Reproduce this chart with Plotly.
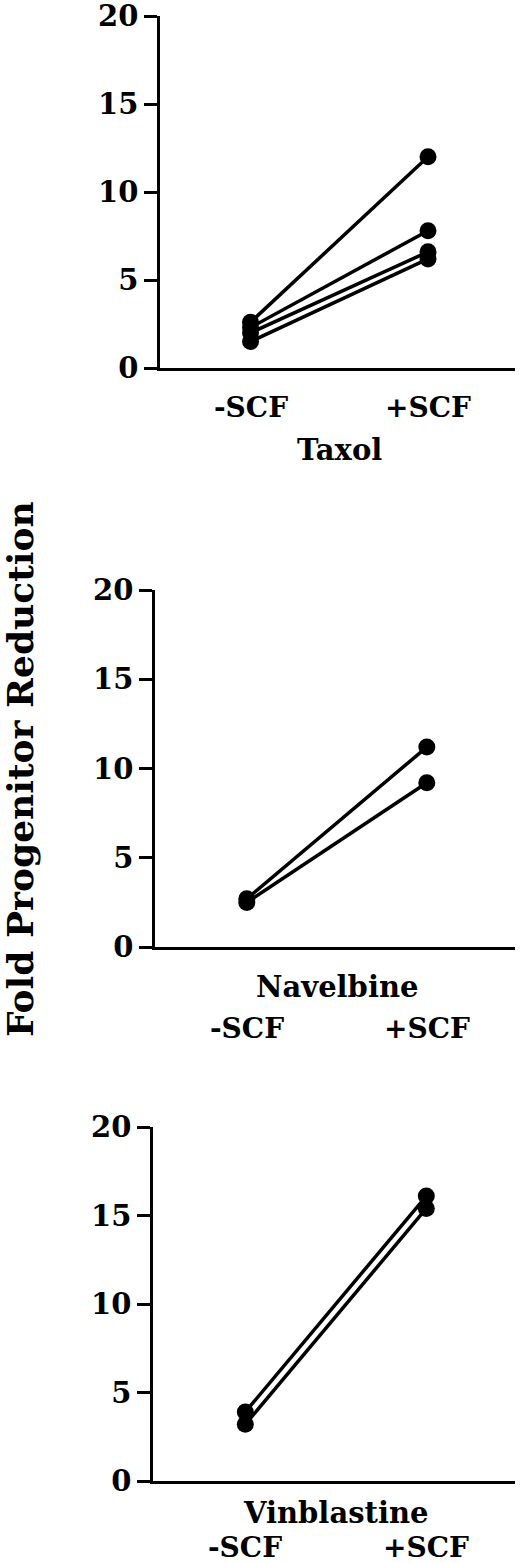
import plotly.graph_objects as go

# x categories
conditions = ["-SCF", "+SCF"]

# fold progenitor reduction, one pair (-SCF, +SCF) per experiment
taxol_minus = [2.6, 2.3, 2.0, 1.5]
taxol_plus = [12.0, 7.8, 6.6, 6.2]

navelbine_minus = [2.7, 2.5]
navelbine_plus = [11.2, 9.2]

vinblastine_minus = [3.9, 3.2]
vinblastine_plus = [16.1, 15.4]

y_ticks = [0, 5, 10, 15, 20]

W, H = 520, 1563
FONT = "DejaVu Serif"

panels = [
    # name, minus, plus, x px domain, y px (top, bottom), label centres (drug, scf)
    ("Taxol", taxol_minus, taxol_plus, (160, 515), (16, 368), 450, 407),
    ("Navelbine", navelbine_minus, navelbine_plus, (155, 515), (590, 947), 987, 1028),
    ("Vinblastine", vinblastine_minus, vinblastine_plus, (153, 515), (1127, 1481), 1513, 1547),
]

fig = go.Figure()

for i, (name, minus, plus, xpx, ypx, drug_y, scf_y) in enumerate(panels, start=1):
    xa = "x" if i == 1 else f"x{i}"
    ya = "y" if i == 1 else f"y{i}"
    for a, b in zip(minus, plus):
        fig.add_trace(go.Scatter(
            x=[0, 1], y=[a, b],
            xaxis=xa, yaxis=ya,
            mode="lines+markers",
            line=dict(color="black", width=3.5),
            marker=dict(color="black", size=17),
            cliponaxis=False,
            showlegend=False,
            hoverinfo="skip",
        ))

    xdom = [xpx[0] / W, xpx[1] / W]
    ydom = [1 - ypx[1] / H, 1 - ypx[0] / H]
    fig.layout[f"xaxis{'' if i == 1 else i}"] = dict(
        domain=xdom, anchor=ya, range=[-0.51, 1.49],
        showline=True, linecolor="black", linewidth=2.5,
        showgrid=False, zeroline=False, showticklabels=False, ticks="",
        automargin=False,
    )
    fig.layout[f"yaxis{'' if i == 1 else i}"] = dict(
        domain=ydom, anchor=xa, range=[0, 20],
        tickvals=y_ticks, ticks="outside", ticklen=13, tickwidth=2.5,
        tickcolor="black", ticklabeloverflow="allow",
        showline=True, linecolor="black", linewidth=2.5,
        showgrid=False, zeroline=False, automargin=False,
        tickfont=dict(family=FONT, size=29, color="black", weight="bold"),
    )

    # drug name and condition labels under each panel
    fig.add_annotation(
        text=name, xref=xa, yref="paper", x=0.5, y=1 - drug_y / H,
        showarrow=False, yanchor="middle",
        font=dict(family=FONT, size=29, color="black", weight="bold"),
    )
    for xi, lab in enumerate(conditions):
        fig.add_annotation(
            text=lab, xref=xa, yref="paper", x=xi, y=1 - scf_y / H,
            showarrow=False, yanchor="middle",
            font=dict(family=FONT, size=28, color="black", weight="bold"),
        )

# shared y title
fig.add_annotation(
    text="Fold Progenitor Reduction", xref="paper", yref="paper",
    x=20 / W, y=1 - 769 / H, textangle=-90, showarrow=False,
    xanchor="center", yanchor="middle",
    font=dict(family=FONT, size=36, color="black", weight="bold"),
)

fig.update_layout(
    width=W, height=H,
    margin=dict(l=0, r=0, t=0, b=0, autoexpand=False),
    paper_bgcolor="white", plot_bgcolor="white",
    showlegend=False,
)

# drop the browser's default 8px body margin so the figure fills the window
fig.write_html(
    "out.html",
    config={"displayModeBar": False},
    post_script="document.body.style.margin='0';",
)
